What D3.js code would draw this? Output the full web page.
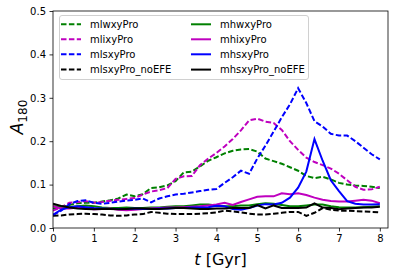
<!DOCTYPE html>
<html>
<head>
<style>
body { margin: 0; background: #fff; }
text { font-family: "DejaVu Sans", sans-serif; fill: #000; }
</style>
<script src="https://d3js.org/d3.v7.min.js"></script>
</head>
<body>
<svg width="398" height="275"></svg>
<script>
// time in Gyr
var times = [0.0, 0.2, 0.4, 0.6, 0.8, 1.0, 1.2, 1.4, 1.6, 1.8, 2.0, 2.2, 2.4, 2.6, 2.8, 3.0,
  3.2, 3.4, 3.6, 3.8, 4.0, 4.2, 4.4, 4.6, 4.8, 5.0, 5.2, 5.4, 5.6, 5.8, 6.0,
  6.2, 6.4, 6.6, 6.8, 7.0, 7.2, 7.4, 7.6, 7.8, 8.0];

var mlwxyPro = [0.045, 0.048, 0.053, 0.057, 0.058, 0.058, 0.061, 0.064, 0.068, 0.077, 0.073,
  0.078, 0.092, 0.094, 0.098, 0.108, 0.128, 0.130, 0.142, 0.155, 0.163, 0.172, 0.178, 0.181,
  0.182, 0.176, 0.160, 0.154, 0.148, 0.140, 0.132, 0.120, 0.115, 0.118, 0.112, 0.104, 0.100,
  0.098, 0.097, 0.095, 0.092];
var mlixyPro = [0.040, 0.048, 0.058, 0.060, 0.062, 0.058, 0.060, 0.063, 0.065, 0.067, 0.069,
  0.077, 0.084, 0.087, 0.092, 0.113, 0.119, 0.120, 0.145, 0.160, 0.173, 0.188, 0.205, 0.225,
  0.248, 0.252, 0.245, 0.242, 0.226, 0.200, 0.180, 0.162, 0.152, 0.145, 0.137, 0.125, 0.110,
  0.095, 0.088, 0.089, 0.095];
var mlsxyPro = [0.030, 0.040, 0.055, 0.062, 0.064, 0.058, 0.056, 0.058, 0.061, 0.063, 0.065,
  0.068, 0.059, 0.068, 0.073, 0.077, 0.079, 0.082, 0.085, 0.088, 0.090, 0.104, 0.117, 0.132,
  0.125, 0.160, 0.190, 0.222, 0.255, 0.285, 0.322, 0.288, 0.246, 0.234, 0.217, 0.213, 0.213,
  0.200, 0.185, 0.170, 0.158];
var mlsxyPro_noEFE = [0.028, 0.029, 0.031, 0.032, 0.033, 0.032, 0.031, 0.029, 0.028, 0.029, 0.031,
  0.032, 0.037, 0.035, 0.033, 0.032, 0.032, 0.032, 0.033, 0.034, 0.036, 0.040, 0.038, 0.036,
  0.033, 0.031, 0.031, 0.033, 0.035, 0.037, 0.037, 0.028, 0.035, 0.046, 0.042, 0.040, 0.040,
  0.039, 0.038, 0.037, 0.036];
var mhwxyPro = [0.050, 0.050, 0.048, 0.050, 0.052, 0.050, 0.047, 0.046, 0.046, 0.047, 0.046,
  0.046, 0.047, 0.047, 0.049, 0.050, 0.050, 0.052, 0.054, 0.054, 0.052, 0.050, 0.050, 0.052,
  0.052, 0.055, 0.057, 0.056, 0.053, 0.050, 0.050, 0.052, 0.054, 0.054, 0.050, 0.048, 0.047,
  0.047, 0.048, 0.049, 0.050];
var mhixyPro = [0.050, 0.045, 0.045, 0.047, 0.045, 0.043, 0.044, 0.045, 0.042, 0.041, 0.042,
  0.044, 0.045, 0.046, 0.047, 0.047, 0.048, 0.049, 0.050, 0.052, 0.054, 0.058, 0.053, 0.060,
  0.066, 0.072, 0.073, 0.073, 0.080, 0.078, 0.080, 0.076, 0.070, 0.065, 0.062, 0.061, 0.061,
  0.063, 0.065, 0.063, 0.057];
var mhsxyPro = [0.030, 0.042, 0.048, 0.050, 0.048, 0.046, 0.045, 0.044, 0.044, 0.044, 0.045,
  0.044, 0.044, 0.045, 0.045, 0.046, 0.046, 0.047, 0.047, 0.048, 0.051, 0.050, 0.044, 0.042,
  0.046, 0.052, 0.055, 0.054, 0.058, 0.070, 0.093, 0.130, 0.205, 0.155, 0.110, 0.085, 0.062,
  0.056, 0.054, 0.054, 0.055];
var mhsxyPro_noEFE = [0.056, 0.051, 0.047, 0.045, 0.044, 0.043, 0.044, 0.044, 0.043, 0.044, 0.045,
  0.045, 0.044, 0.044, 0.045, 0.046, 0.046, 0.045, 0.044, 0.044, 0.045, 0.045, 0.046, 0.046,
  0.046, 0.053, 0.045, 0.052, 0.046, 0.046, 0.046, 0.047, 0.057, 0.047, 0.046, 0.043, 0.045,
  0.046, 0.047, 0.047, 0.049];

var xTicks = [0, 1, 2, 3, 4, 5, 6, 7, 8];
var yTicks = [0.0, 0.1, 0.2, 0.3, 0.4, 0.5];

var series = [
  {name: "mlwxyPro", values: mlwxyPro, color: "green", dashed: true},
  {name: "mlixyPro", values: mlixyPro, color: "#bf00bf", dashed: true},
  {name: "mlsxyPro", values: mlsxyPro, color: "blue", dashed: true},
  {name: "mlsxyPro_noEFE", values: mlsxyPro_noEFE, color: "black", dashed: true},
  {name: "mhwxyPro", values: mhwxyPro, color: "green", dashed: false},
  {name: "mhixyPro", values: mhixyPro, color: "#bf00bf", dashed: false},
  {name: "mhsxyPro", values: mhsxyPro, color: "blue", dashed: false},
  {name: "mhsxyPro_noEFE", values: mhsxyPro_noEFE, color: "black", dashed: false}
];

var plotL = 53, plotT = 11, plotR = 388, plotB = 228;
var svg = d3.select("svg");

var x = d3.scaleLinear().domain([0, 8.2]).range([plotL, plotR]);
var y = d3.scaleLinear().domain([0, 0.5]).range([plotB, plotT]);

svg.append("defs").append("clipPath").attr("id", "clip")
  .append("rect").attr("x", plotL).attr("y", plotT)
  .attr("width", plotR - plotL).attr("height", plotB - plotT);

var line = d3.line()
  .x(function(d, i) { return x(times[i]); })
  .y(function(d) { return y(d); });

svg.append("g").attr("clip-path", "url(#clip)")
  .selectAll("path")
  .data(series)
  .enter()
  .append("path")
  .attr("d", function(d) { return line(d.values); })
  .attr("fill", "none")
  .attr("stroke", function(d) { return d.color; })
  .attr("stroke-width", 2)
  .attr("stroke-dasharray", function(d) { return d.dashed ? "5.5,2.4" : null; });

// axes
var axisX = d3.axisBottom(x).tickValues(xTicks).tickFormat(d3.format("d"))
  .tickSizeInner(3.5).tickSizeOuter(0).tickPadding(3.5);
var gx = svg.append("g").attr("transform", "translate(0," + plotB + ")").call(axisX);

var axisY = d3.axisLeft(y).tickValues(yTicks).tickFormat(d3.format(".1f"))
  .tickSizeInner(3.5).tickSizeOuter(0).tickPadding(3.5);
var gy = svg.append("g").attr("transform", "translate(" + plotL + ",0)").call(axisY);

[gx, gy].forEach(function(g) {
  g.select(".domain").remove();
  g.selectAll("text").style("font-family", "DejaVu Sans").style("font-size", "10px").attr("fill", "#000");
  g.selectAll("line").attr("stroke", "#000").attr("stroke-width", 0.8);
});

svg.append("rect")
  .attr("x", plotL).attr("y", plotT)
  .attr("width", plotR - plotL).attr("height", plotB - plotT)
  .attr("fill", "none").attr("stroke", "#000").attr("stroke-width", 0.8);

// axis labels
svg.append("text")
  .attr("x", (plotL + plotR) / 2).attr("y", 265)
  .attr("text-anchor", "middle")
  .style("font-size", "16px")
  .html('<tspan font-style="italic">t</tspan> [Gyr]');

svg.append("text")
  .attr("transform", "translate(23,117) rotate(-90)")
  .attr("text-anchor", "middle")
  .style("font-size", "17px")
  .html('<tspan font-style="italic">A</tspan><tspan dy="4" font-size="12px">180</tspan>');

// legend
var legend = svg.append("g");
legend.append("rect")
  .attr("x", 59.5).attr("y", 15.5).attr("width", 249).attr("height", 64)
  .attr("rx", 2.5)
  .attr("fill", "#fff").attr("fill-opacity", 0.8)
  .attr("stroke", "#d0d0d0").attr("stroke-width", 1);

var rowY = [24.3, 39.3, 54.3, 69.6];
var colX = [61, 191];

var items = legend.selectAll("g.item")
  .data(series)
  .enter()
  .append("g")
  .attr("transform", function(d, i) {
    return "translate(" + colX[Math.floor(i / 4)] + "," + rowY[i % 4] + ")";
  });

items.append("line")
  .attr("x1", 0).attr("x2", 20).attr("y1", 0).attr("y2", 0)
  .attr("stroke", function(d) { return d.color; })
  .attr("stroke-width", 2)
  .attr("stroke-dasharray", function(d) { return d.dashed ? "5.5,2.4" : null; });

items.append("text")
  .attr("x", 29).attr("y", 0).attr("dy", "0.35em")
  .style("font-size", "10px")
  .text(function(d) { return d.name; });
</script>
</body>
</html>
